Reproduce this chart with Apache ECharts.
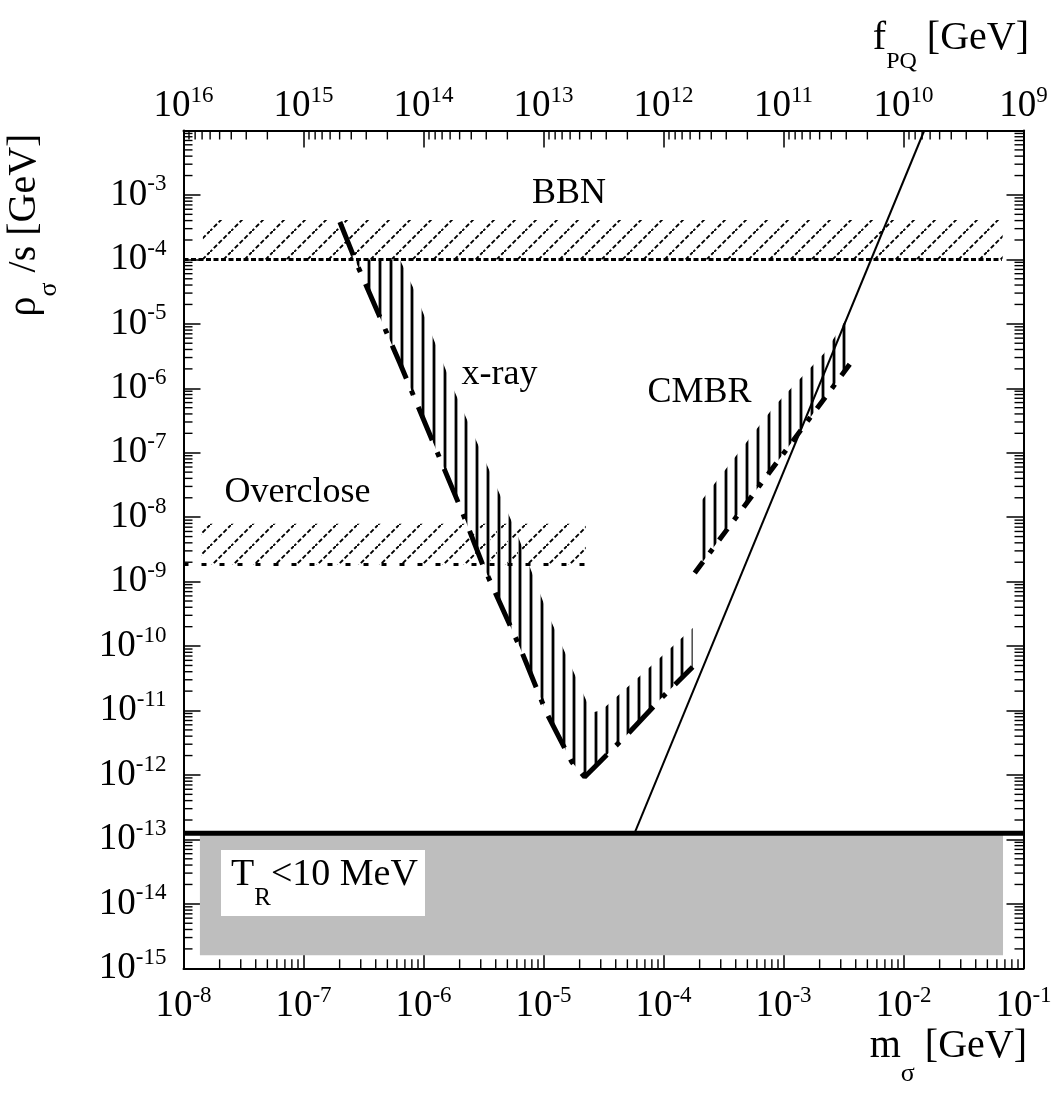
<!DOCTYPE html>
<html><head><meta charset="utf-8">
<script src="https://cdn.jsdelivr.net/npm/echarts@6/dist/echarts.min.js"></script>
<style>html,body{margin:0;padding:0;background:#fff}#c{width:1058px;height:1093px}</style>
</head><body><div id="c"></div>
<script>
// ---------------- data (m_sigma [GeV], rho_sigma/s [GeV]) ----------------
const bbnLine     = [[1e-8, 1e-4], [6.6e-2, 1e-4]];
const bbnHatch    = [[1.45e-8, 1e-4], [6.7e-2, 1e-4], [6.7e-2, 4.07e-4], [1.45e-8, 4.07e-4]];
const overLine    = [[1e-8, 1.84e-9], [2.3e-5, 1.84e-9]];
const overHatch   = [[1.4e-8, 1.84e-9], [2.25e-5, 1.84e-9], [2.25e-5, 7.9e-9], [1.4e-8, 7.9e-9]];
const xrayLine    = [[2.01e-7, 3.8e-4], [2.68e-7, 1e-4], [6.35e-7, 2.47e-6], [2.12e-6, 1.16e-8],
                     [3.12e-6, 1.81e-9], [6.34e-6, 9.7e-11], [1.06e-5, 9.2e-12], [1.72e-5, 1.59e-12],
                     [2.2e-5, 9.3e-13], [2.94e-5, 1.59e-12], [5.23e-5, 4.65e-12], [9.8e-5, 1.62e-11],
                     [1.75e-4, 4.74e-11]];
const xrayUpper   = [[6.35e-7, 1e-4], [8.15e-7, 3.72e-5], [1.75e-6, 1.04e-6], [3.24e-6, 7.7e-8],
                     [5.98e-6, 5.68e-9], [1.08e-5, 3.26e-10], [1.65e-5, 5.46e-11], [2.52e-5, 9.2e-12],
                     [3.06e-5, 1.02e-11], [7.2e-5, 4.2e-11], [1.75e-4, 1.9e-10]];
const cmbrLine    = [[1.82e-4, 1.36e-9], [3.68e-3, 2.55e-6]];
const cmbrUpper   = [[2.0e-4, 1.66e-8], [8.41e-4, 5.31e-7], [2.19e-3, 3.52e-6], [3.41e-3, 1.27e-5]];
const cmbrLowerEdge = [[3.41e-3, 2.11e-6], [2.0e-4, 1.75e-9]];
const axionLine   = [[5.74e-5, 1.25e-13], [1.49e-2, 1e-2]];
const trLine      = [[1e-8, 1.25e-13], [1e-1, 1.25e-13]];
const trRegion    = [[1.37e-8, 1.6e-15], [6.75e-2, 1.6e-15], [6.75e-2, 1.25e-13], [1.37e-8, 1.25e-13]];

// axis ranges / tick exponents
const mRange = [1e-8, 1e-1];
const fRange = [1e9, 1e16];
const rhoRange = [1e-15, 1e-2];
function minorTicks(e0, e1) { const r = []; for (let e = e0; e < e1; e++) for (let k = 2; k <= 9; k++) r.push(k * Math.pow(10, e)); return r; }
const mMinor = minorTicks(-8, -1);
const fMinor = minorTicks(9, 16);
const rhoMinor = minorTicks(-15, -2);

// ---------------- styling ----------------
const FONT = "'Liberation Serif','Times New Roman',serif";
const supRich = {
  b: { fontSize: 37, lineHeight: 42, fontFamily: FONT, color: '#000' },
  s: { fontSize: 23, lineHeight: 42, fontFamily: FONT, color: '#000', padding: [0, 0, 21, 0] }
};
function powLabel(v) { const e = Math.round(Math.log10(v)); return '{b|10}{s|' + e + '}'; }

function diagPattern() {
  const c = document.createElement('canvas'); c.width = 21; c.height = 21;
  const g = c.getContext('2d');
  g.strokeStyle = '#000'; g.lineWidth = 1.9; g.setLineDash([4.5, 2.3]);
  g.beginPath(); g.moveTo(-1, 22); g.lineTo(22, -1); g.stroke();
  return c;
}
function vertPattern() {
  const c = document.createElement('canvas'); c.width = 54; c.height = 64;
  const g = c.getContext('2d');
  [0, 11, 22, 32, 43].forEach(x => {
    g.fillStyle = '#999'; g.fillRect(x, 0, 1, 64); g.fillRect(x + 3, 0, 1, 64);
    g.fillStyle = '#000'; g.fillRect(x + 1, 0, 2, 64);
  });
  return c;
}
const diagFill = { image: diagPattern(), repeat: 'repeat' };
const vertFill = { image: vertPattern(), repeat: 'repeat' };

function polySeries(pts, fill) {
  return {
    type: 'custom', coordinateSystem: 'cartesian2d', data: pts, silent: true, z: 2,
    renderItem: (params, api) => {
      if (params.dataIndex !== 0) return null;
      return { type: 'polygon', shape: { points: pts.map(p => api.coord(p)) }, style: { fill: fill } };
    }
  };
}
function lineSeries(pts, width, type) {
  return { type: 'line', data: pts, symbol: 'none', silent: true, z: 3,
    lineStyle: { color: '#000', width: width, type: type, cap: 'butt' } };
}
function tickSeries(data, dx, dy, xIdx, yIdx) {
  return {
    type: 'custom', coordinateSystem: 'cartesian2d', xAxisIndex: xIdx, yAxisIndex: yIdx,
    data: data, silent: true, z: 5, clip: false,
    renderItem: (params, api) => {
      const p = api.coord([api.value(0), api.value(1)]);
      return { type: 'line', shape: { x1: p[0], y1: p[1], x2: p[0] + dx, y2: p[1] + dy },
        style: { stroke: '#000', lineWidth: 1.4 } };
    }
  };
}
const axLine = { show: true, lineStyle: { color: '#000', width: 2 } };
const axTick = { show: true, inside: true, length: 17, lineStyle: { color: '#000', width: 1.5 } };
const titleRich = (subSize, pad) => ({
  a: { fontSize: 40, lineHeight: 44, fontFamily: FONT, color: '#000' },
  s: { fontSize: subSize, lineHeight: 44, fontFamily: FONT, color: '#000', padding: [pad, 0, 0, 0] }
});

const option = {
  animation: false,
  backgroundColor: '#fff',
  grid: { left: 183.5, right: 34.5, top: 130.5, bottom: 124.7 },
  xAxis: [
    { type: 'log', logBase: 10, min: mRange[0], max: mRange[1], interval: 1, position: 'bottom',
      axisLine: axLine, axisTick: axTick, splitLine: { show: false },
      axisLabel: { margin: 17, formatter: powLabel, rich: supRich } },
    { type: 'log', logBase: 10, min: fRange[0], max: fRange[1], interval: 1, inverse: true, position: 'top',
      axisLine: axLine, axisTick: axTick, splitLine: { show: false },
      axisLabel: { margin: 3, formatter: powLabel, rich: supRich } }
  ],
  yAxis: [
    { type: 'log', logBase: 10, min: rhoRange[0], max: rhoRange[1], interval: 1, position: 'left',
      axisLine: axLine, axisTick: axTick, splitLine: { show: false },
      axisLabel: { margin: 17, rich: supRich,
        formatter: v => Math.round(Math.log10(v)) === -2 ? '' : powLabel(v) } },
    { type: 'log', logBase: 10, min: rhoRange[0], max: rhoRange[1], interval: 1, position: 'right',
      axisLine: axLine, axisTick: axTick, splitLine: { show: false }, axisLabel: { show: false } }
  ],
  series: [
    Object.assign(polySeries(trRegion, '#bebebe'), { z: 1 }),
    polySeries(bbnHatch, diagFill),
    polySeries(overHatch, diagFill),
    polySeries(xrayUpper.concat(xrayLine.slice(1).reverse()), vertFill),
    polySeries(cmbrUpper.concat(cmbrLowerEdge), vertFill),
    lineSeries(bbnLine, 3, [5, 2.5]),
    lineSeries(overLine, 3, [5, 13]),
    lineSeries(xrayLine, 5, [36, 13, 5, 13]),
    lineSeries(cmbrLine, 5, [14, 11, 5, 11]),
    lineSeries(axionLine, 2, 'solid'),
    lineSeries(trLine, 5, 'solid'),
    tickSeries(mMinor.map(v => [v, rhoRange[0]]), 0, -9, 0, 0),
    tickSeries(fMinor.map(v => [v, rhoRange[1]]), 0, 9, 1, 0),
    tickSeries(rhoMinor.map(v => [mRange[0], v]), 9, 0, 0, 0),
    tickSeries(rhoMinor.map(v => [mRange[1], v]), -9, 0, 0, 1)
  ],
  graphic: [
    { type: 'rect', z: 100, shape: { x: 221, y: 850, width: 204, height: 66 }, style: { fill: '#fff' } },
    { type: 'text', z: 101, x: 231, y: 875, style: { text: '{a|T}{s|R}{a|<10 MeV}', align: 'left', verticalAlign: 'middle',
        rich: { a: { fontSize: 38, lineHeight: 42, fontFamily: FONT, color: '#000' },
                s: { fontSize: 25, lineHeight: 42, fontFamily: FONT, color: '#000', padding: [46, 0, 0, 0] } } } },
    { type: 'text', z: 101, x: 569, y: 194, style: { text: 'BBN', font: '36px ' + FONT, fill: '#000', align: 'center', verticalAlign: 'middle' } },
    { type: 'text', z: 101, x: 499.5, y: 375, style: { text: 'x-ray', font: '36px ' + FONT, fill: '#000', align: 'center', verticalAlign: 'middle' } },
    { type: 'text', z: 101, x: 699.5, y: 393, style: { text: 'CMBR', font: '36px ' + FONT, fill: '#000', align: 'center', verticalAlign: 'middle' } },
    { type: 'text', z: 101, x: 297.5, y: 492.5, style: { text: 'Overclose', font: '36px ' + FONT, fill: '#000', align: 'center', verticalAlign: 'middle' } },
    { type: 'text', z: 101, x: 1029, y: 38, style: { text: '{a|f}{s|PQ}{a| [GeV]}', align: 'right', verticalAlign: 'middle', rich: titleRich(24, 48) } },
    { type: 'text', z: 101, x: 1027, y: 1046, style: { text: '{a|m}{s|σ}{a| [GeV]}', align: 'right', verticalAlign: 'middle', rich: titleRich(26, 56) } },
    { type: 'text', z: 101, x: 24, y: 225, rotation: Math.PI / 2, style: { text: '{a|ρ}{s|σ}{a| /s [GeV]}', align: 'center', verticalAlign: 'middle', rich: titleRich(26, 50) } }
  ]
};
const chart = echarts.init(document.getElementById('c'), null, { renderer: 'canvas' });
chart.setOption(option);
</script></body></html>
